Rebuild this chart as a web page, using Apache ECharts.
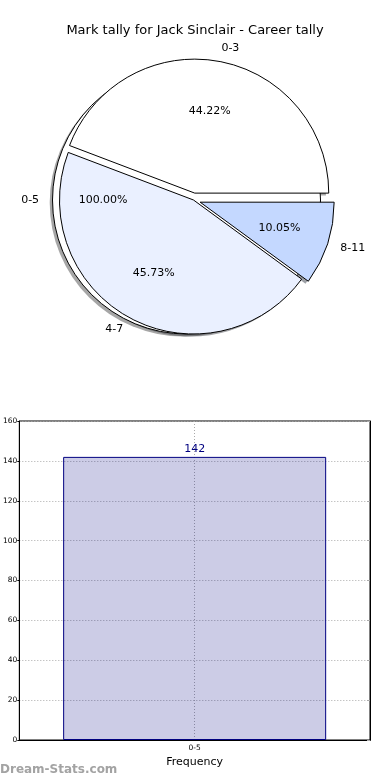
<!DOCTYPE html>
<html><head><meta charset="utf-8">
<script src="https://cdn.jsdelivr.net/npm/echarts@6/dist/echarts.min.js"></script>
<style>html,body{margin:0;padding:0;background:#fff}#c{width:390px;height:780px}</style>
</head><body><div id="c"></div>
<script>
const titleText = 'Mark tally for Jack Sinclair - Career tally';
const fullCats = ['0-5'];
const fullValues = [142];
const fullColors = ['#ffffff'];
const fullExploded = [true];
const pieCats = ['0-3', '4-7', '8-11'];
const pieValues = [88, 91, 20];
const pieColors = ['#ffffff', '#eaf0ff', '#c4d8ff'];
const pieExploded = [true, false, true];
const barCats = ['0-5'];
const barValues = [142];
const yMin = 0, yMax = 160, yStep = 20;
const watermark = 'Dream-Stats.com';

const FONT = 'DejaVu Sans';
const R = 134;
const C = [193.5, 200];
const SH = [-2.8, 2.5];

function shadeOf(hex) {
  const n = parseInt(hex.slice(1), 16);
  const r = Math.round(((n >> 16) & 255) * 0.3), g = Math.round(((n >> 8) & 255) * 0.3), b = Math.round((n & 255) * 0.3);
  return 'rgba(' + r + ',' + g + ',' + b + ',0.5)';
}
function pieBase(r0, center) {
  return {
    type: 'pie', center: center || C, radius: [r0, R],
    startAngle: 0, clockwise: false, avoidLabelOverlap: false,
    selectedMode: 'multiple', selectedOffset: 7,
    silent: true, animation: false,
    emphasis: { disabled: true },
    labelLine: { show: false, length: 0.1 * R, length2: 0 }
  };
}
function shadowSeries(cats, vals, colors, expl) {
  return Object.assign(pieBase(0, [C[0] + SH[0], C[1] + SH[1]]), {
    data: cats.map((n, i) => ({ name: n, value: vals[i], selected: expl[i],
      itemStyle: { color: shadeOf(colors[i]) }, select: { itemStyle: { color: shadeOf(colors[i]) } } })),
    itemStyle: { borderWidth: 0 },
    select: { itemStyle: { borderWidth: 0 } },
    label: { show: false }
  });
}
function shapeSeries(cats, vals, colors, expl) {
  return Object.assign(pieBase(0), {
    data: cats.map((n, i) => ({ name: n, value: vals[i], selected: expl[i],
      itemStyle: { color: colors[i] }, select: { itemStyle: { color: colors[i] } } })),
    itemStyle: { borderColor: '#000', borderWidth: 1 },
    select: { itemStyle: { borderColor: '#000', borderWidth: 1 }, label: { color: '#000' } },
    label: { show: true, position: 'outside', formatter: '{b}', color: '#000', fontSize: 11, fontFamily: FONT, distanceToLabelLine: 0 }
  });
}
function pctSeries(cats, vals, expl) {
  return Object.assign(pieBase(0.2 * R), {
    data: cats.map((n, i) => ({ name: n, value: vals[i], selected: expl[i] })),
    itemStyle: { color: 'rgba(0,0,0,0)', borderWidth: 0 },
    select: { itemStyle: { color: 'rgba(0,0,0,0)', borderWidth: 0 }, label: { color: '#000' } },
    label: { show: true, position: 'inside', formatter: p => p.percent.toFixed(2) + '%', color: '#000', fontSize: 11, fontFamily: FONT }
  });
}

const chart = echarts.init(document.getElementById('c'), null, { renderer: 'canvas' });
chart.setOption({
  animation: false,
  backgroundColor: '#fff',
  title: { text: titleText, left: 'center', top: 24, padding: 0, textStyle: { fontSize: 13, fontWeight: 'normal', color: '#000', fontFamily: FONT } },
  graphic: [{ type: 'text', left: 0, top: 764, style: { text: watermark, fill: '#a3a3a3', font: 'bold 12px "DejaVu Sans"' } }],
  grid: { left: 19, right: 20, top: 421, bottom: 40, show: true, borderColor: '#000', borderWidth: 1, backgroundColor: 'transparent' },
  xAxis: [
    { type: 'category', data: barCats, position: 'bottom',
      axisLine: { lineStyle: { color: '#000' } },
      axisTick: { inside: true, alignWithLabel: true, length: 3, lineStyle: { color: '#aaa' } },
      axisLabel: { fontSize: 7.5, color: '#000', margin: 4, fontFamily: FONT },
      splitLine: { show: true, alignWithLabel: true, lineStyle: { type: [1, 2], color: '#aaa' } },
      name: 'Frequency', nameLocation: 'middle', nameGap: 17, nameTextStyle: { fontSize: 11, color: '#000', fontFamily: FONT } },
    { type: 'category', data: barCats, position: 'top',
      axisLine: { lineStyle: { color: '#000' } },
      axisTick: { inside: true, alignWithLabel: true, length: 3, lineStyle: { color: '#aaa' } },
      axisLabel: { show: false }, splitLine: { show: false } }
  ],
  yAxis: [
    { type: 'value', min: yMin, max: yMax, interval: yStep, position: 'left',
      axisLine: { show: true, lineStyle: { color: '#000' } },
      axisTick: { show: true, inside: false, length: 2, lineStyle: { color: '#000' } },
      axisLabel: { fontSize: 7.5, color: '#000', margin: 2, fontFamily: FONT },
      splitLine: { show: true, lineStyle: { type: [1, 2], color: '#aaa' } } },
    { type: 'value', min: yMin, max: yMax, interval: yStep, position: 'right',
      axisLine: { show: true, lineStyle: { color: '#000' } },
      axisTick: { show: true, inside: true, length: 3, lineStyle: { color: '#aaa' } },
      axisLabel: { show: false }, splitLine: { show: false } }
  ],
  series: [
    shadowSeries(fullCats, fullValues, fullColors, fullExploded),
    shadowSeries(pieCats, pieValues, pieColors, pieExploded),
    shapeSeries(fullCats, fullValues, fullColors, fullExploded),
    pctSeries(fullCats, fullValues, fullExploded),
    shapeSeries(pieCats, pieValues, pieColors, pieExploded),
    pctSeries(pieCats, pieValues, pieExploded),
    { type: 'bar', data: barValues, xAxisIndex: 0, yAxisIndex: 0, barWidth: '75%', silent: true,
      itemStyle: { color: 'rgba(0,0,128,0.2)', borderColor: '#000080', borderWidth: 1 },
      label: { show: true, position: 'top', distance: 2, color: '#000080', fontSize: 11, fontFamily: FONT } }
  ]
});
</script></body></html>
